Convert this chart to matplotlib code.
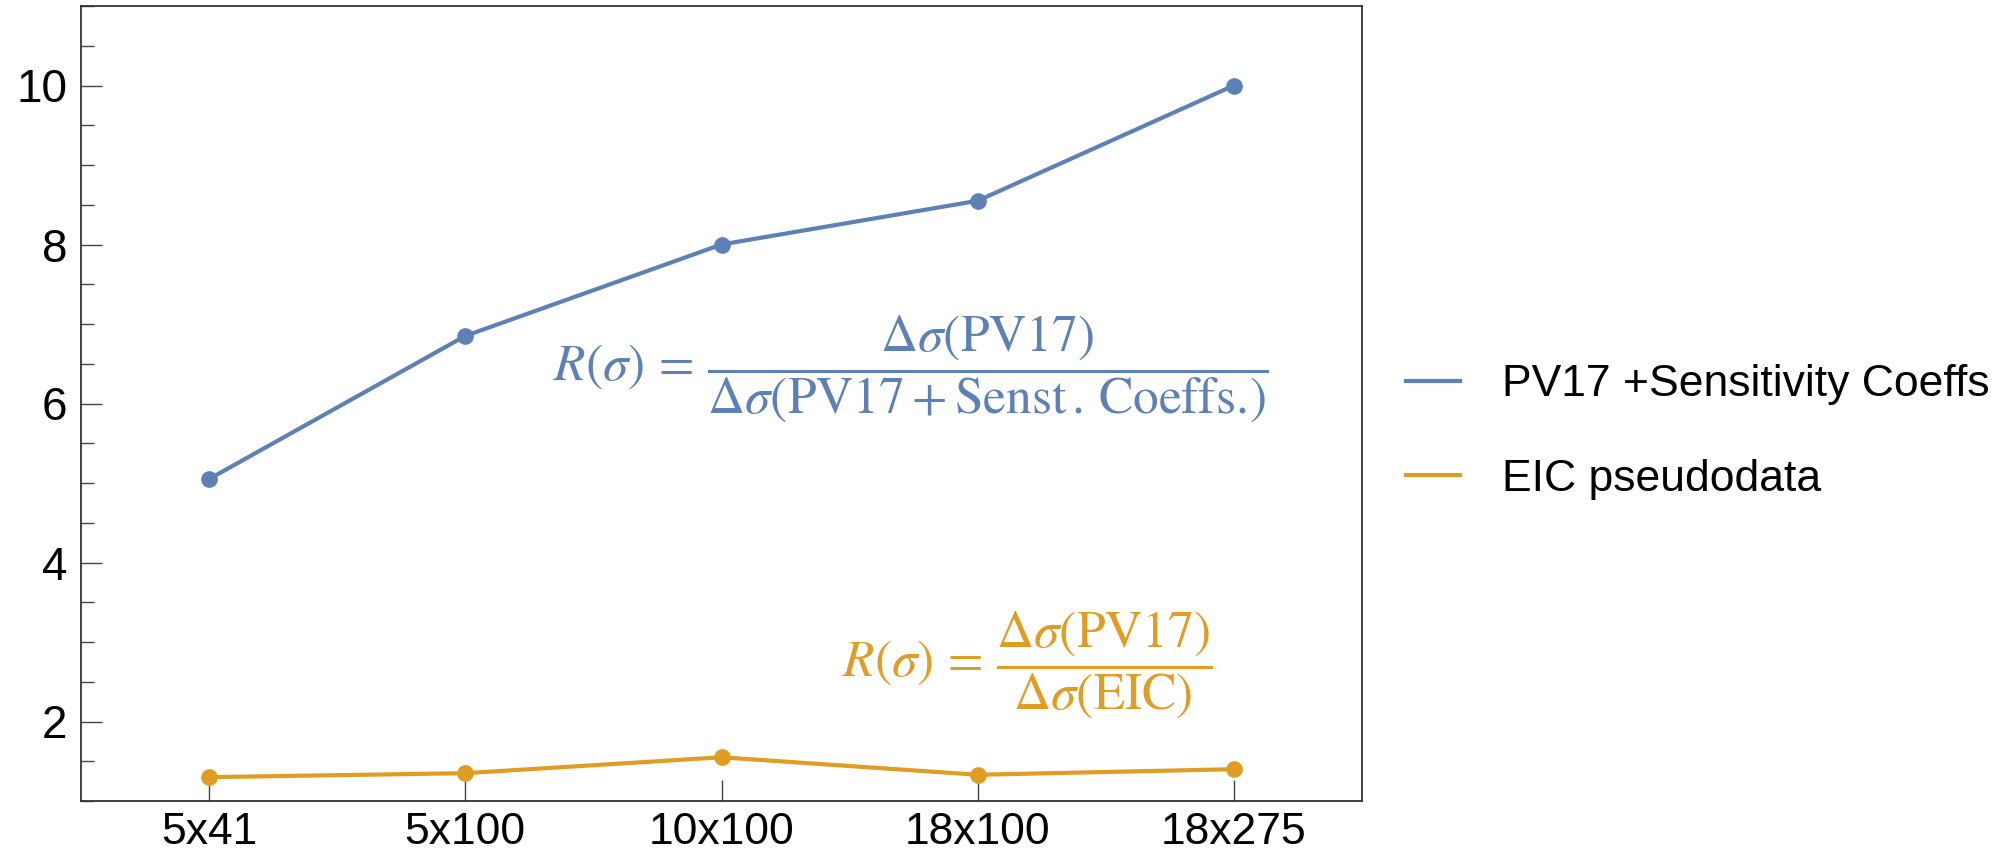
import matplotlib
matplotlib.use("Agg")
import matplotlib.pyplot as plt
from matplotlib.ticker import MultipleLocator

categories = ["5x41", "5x100", "10x100", "18x100", "18x275"]
pv17_sens = [5.05, 6.85, 8.0, 8.55, 10.0]
eic_pseudo = [1.30, 1.35, 1.55, 1.33, 1.40]
series_labels = ["PV17 +Sensitivity Coeffs", "EIC pseudodata"]

blue = "#5E81B5"
orange = "#E19C24"

plt.rcParams["font.family"] = ["Liberation Sans", "DejaVu Sans"]
plt.rcParams["mathtext.fontset"] = "stix"

fig = plt.figure(figsize=(20.15, 8.6), dpi=100)
ax = fig.add_axes([81/2015, 1-801/860, (1362-81)/2015, (801-6)/860])

x = list(range(len(categories)))
ax.plot(x, pv17_sens, color=blue, lw=3.0, marker="o", ms=11, label=series_labels[0])
ax.plot(x, eic_pseudo, color=orange, lw=3.0, marker="o", ms=11, label=series_labels[1])

ax.set_xlim(-0.5, 4.5)
ax.set_ylim(1.0, 11.0)
ax.set_xticks(x)
ax.set_xticklabels(categories)
ax.yaxis.set_major_locator(MultipleLocator(2))
ax.yaxis.set_minor_locator(MultipleLocator(0.5))
ax.tick_params(axis="both", which="major", direction="in", length=15, width=1.0,
               labelsize=33, color="#444444", pad=10)
ax.tick_params(axis="x", which="major", labelsize=32, pad=8)
ax.tick_params(axis="y", which="minor", direction="in", length=9, width=1.0, color="#444444")
ax.tick_params(axis="x", which="minor", bottom=False)
ax.tick_params(top=False, right=False)
for s in ax.spines.values():
    s.set_color("#333333")
    s.set_linewidth(1.3)

ax.text(0.3685, 0.5434,
        r"$R(\sigma)\,=\,\dfrac{\Delta\sigma(\mathrm{PV17})}{\Delta\sigma(\mathrm{PV17}+\mathrm{Senst}\,.\,\mathrm{Coeffs}.\!)}$",
        transform=ax.transAxes, ha="left", va="center", fontsize=37, color=blue)
ax.text(0.594, 0.172,
        r"$R(\sigma)\,=\,\dfrac{\Delta\sigma(\mathrm{PV17})}{\Delta\sigma(\mathrm{EIC})}$",
        transform=ax.transAxes, ha="left", va="center", fontsize=37, color=orange)

handles = [plt.Line2D([], [], color=blue, lw=3.0), plt.Line2D([], [], color=orange, lw=3.0)]
leg = fig.legend(handles, series_labels, loc="center left", bbox_to_anchor=(1366/2015, 1-432/860),
                 frameon=False, fontsize=32, handlelength=1.22, handletextpad=0.93, labelspacing=1.2)

fig.savefig("out.png", dpi=100)
